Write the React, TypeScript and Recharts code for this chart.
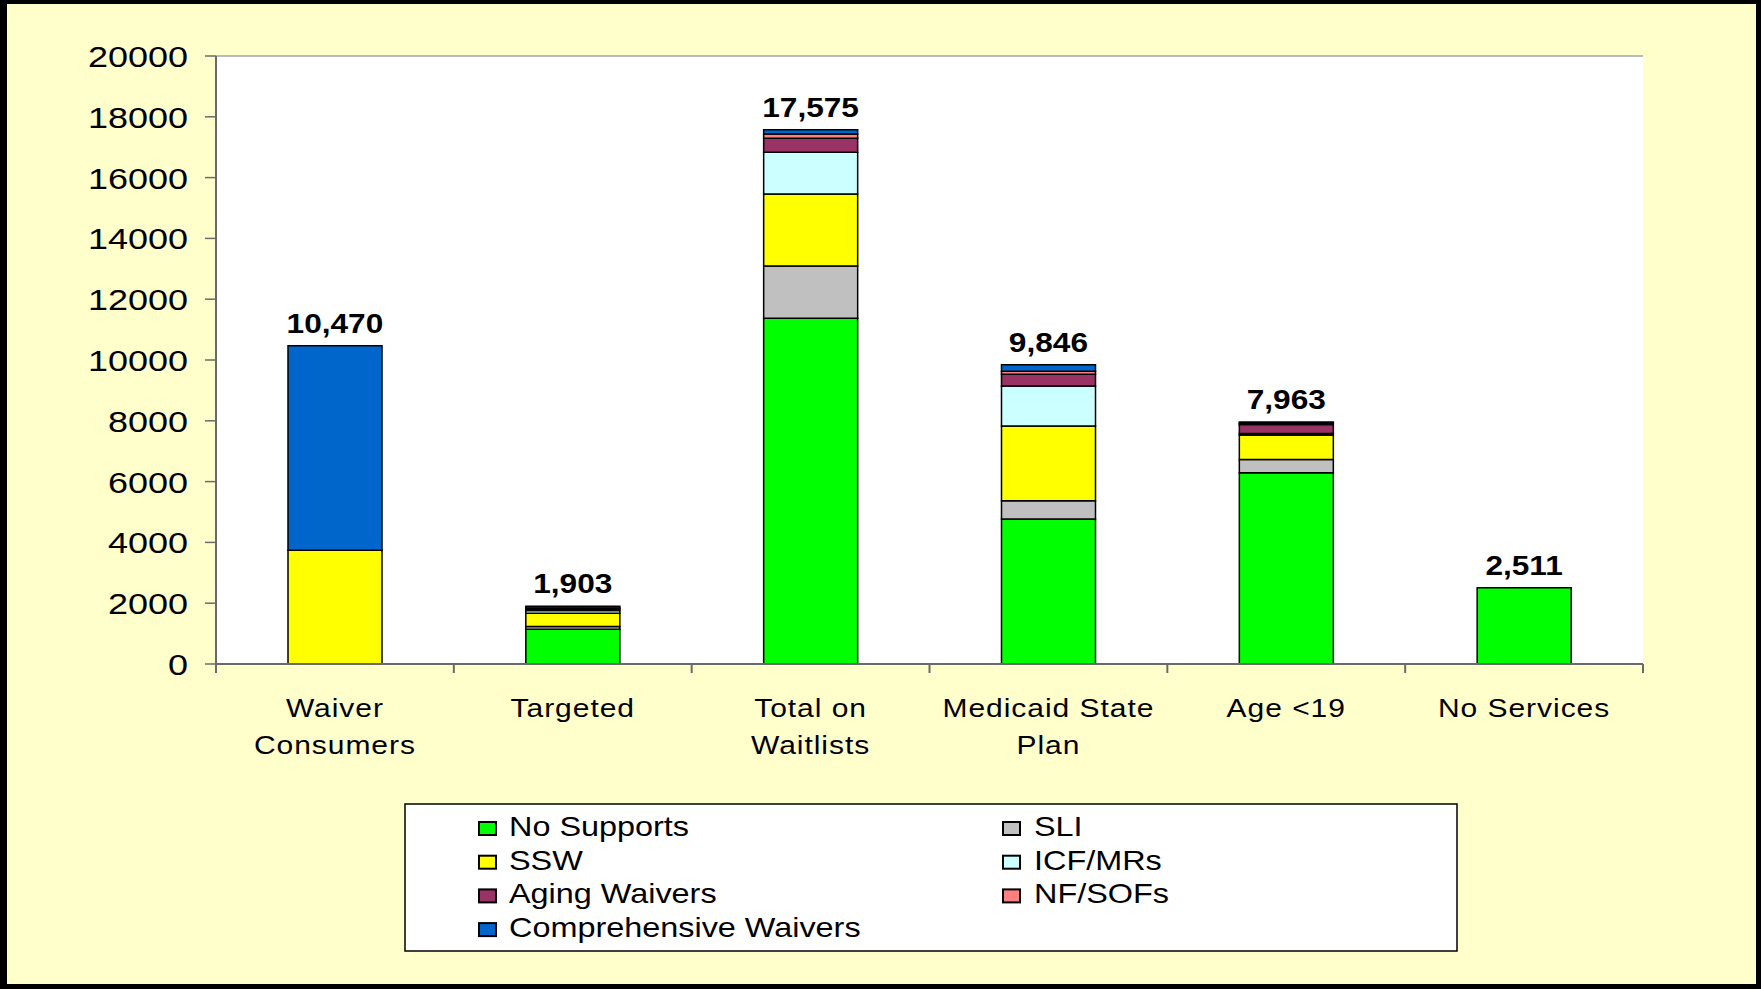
import { Bar, CartesianGrid, ComposedChart, LabelList, Line, XAxis, YAxis } from "recharts";

const categories = ["Waiver\nConsumers", "Targeted", "Total on\nWaitlists", "Medicaid State\nPlan", "Age <19", "No Services"];
const noSupports = [0, 1140, 11370, 4770, 6290, 2511];
const sli = [0, 90, 1720, 600, 440, 0];
const ssw = [3740, 440, 2370, 2457, 800, 0];
const icfMr = [0, 90, 1372, 1316, 50, 0];
const aging = [0, 50, 461, 385, 300, 0];
const nfSof = [0, 30, 141, 100, 30, 0];
const comprehensive = [6730, 63, 141, 218, 53, 0];
const totals = [10470, 1903, 17575, 9846, 7963, 2511];
const yTicks = [0, 2000, 4000, 6000, 8000, 10000, 12000, 14000, 16000, 18000, 20000];

const series = [
  { key: "noSupports", name: "No Supports", color: "#00FF00", values: noSupports },
  { key: "sli", name: "SLI", color: "#C0C0C0", values: sli },
  { key: "ssw", name: "SSW", color: "#FFFF00", values: ssw },
  { key: "icfMr", name: "ICF/MRs", color: "#CCFFFF", values: icfMr },
  { key: "aging", name: "Aging Waivers", color: "#993366", values: aging },
  { key: "nfSof", name: "NF/SOFs", color: "#FF8080", values: nfSof },
  { key: "comprehensive", name: "Comprehensive Waivers", color: "#0066CC", values: comprehensive },
];

const data = categories.map((c, i) => {
  const row: Record<string, string | number> = { name: c, total: totals[i] };
  series.forEach((s) => (row[s.key] = s.values[i]));
  return row;
});

const W = 1761;
const H = 989;
const PLOT_LEFT = 216;
const PLOT_RIGHT = 1643;
const PLOT_TOP = 56;
const PLOT_BOTTOM = 664;
const BAND = (PLOT_RIGHT - PLOT_LEFT) / categories.length;
const FONT = "'Liberation Sans', Arial, sans-serif";
const AXIS = "#6a6a6a";

const YTick = (props: any) => {
  const { x, y, payload } = props;
  return (
    <text transform={`translate(${x},${y + 11}) scale(1.2,1)`} textAnchor="end" fontSize={30} fontFamily={FONT} fill="#000">
      {payload.value}
    </text>
  );
};

const XTick = (props: any) => {
  const { x, y, payload, index } = props;
  const lines = String(payload.value).split("\n");
  const half = BAND / 2;
  return (
    <g>
      {index === 0 && <line x1={x - half} x2={x - half} y1={y} y2={y + 9} stroke={AXIS} strokeWidth={2} />}
      <line x1={x + half} x2={x + half} y1={y} y2={y + 9} stroke={AXIS} strokeWidth={2} />
      {lines.map((l, i) => (
        <text
          key={i}
          transform={`translate(${x},${y + 53 + i * 37}) scale(1.2,1)`}
          textAnchor="middle"
          fontSize={25}
          letterSpacing={0.8}
          fontFamily={FONT}
          fill="#000"
        >
          {l}
        </text>
      ))}
    </g>
  );
};

const TotalLabel = (props: any) => {
  const { x, y, value } = props;
  return (
    <text
      transform={`translate(${x},${y - 13}) scale(1.15,1)`}
      textAnchor="middle"
      fontSize={27.5}
      fontWeight="bold"
      fontFamily={FONT}
      fill="#000"
    >
      {Number(value).toLocaleString("en-US")}
    </text>
  );
};

function ChartLegend() {
  return (
    <svg width={W} height={H} style={{ position: "absolute", left: 0, top: 0, pointerEvents: "none" }}>
      <rect x={405} y={804} width={1052} height={147} fill="#fff" stroke="#000" strokeWidth={1.5} />
      {series.map((s, i) => {
        const col = i % 2;
        const row = Math.floor(i / 2);
        const base = 836 + row * 33.7;
        const sx = col === 0 ? 479 : 1003;
        const tx = col === 0 ? 509 : 1034;
        return (
          <g key={s.key}>
            <rect x={sx} y={base - 14} width={17} height={13} fill={s.color} stroke="#000" strokeWidth={2} />
            <text transform={`translate(${tx},${base}) scale(1.2,1)`} fontSize={27} fontFamily={FONT} fill="#000">
              {s.name}
            </text>
          </g>
        );
      })}
    </svg>
  );
}

export default function App() {
  return (
    <div style={{ position: "absolute", left: 0, top: 0, width: W, height: H, background: "#000", fontFamily: FONT }}>
      <div style={{ position: "absolute", left: 7, top: 4, width: W - 12, height: H - 9, background: "#FFFFCC" }} />
      <div style={{ position: "absolute", left: 0, top: 0 }}>
        <ComposedChart
          width={W}
          height={H}
          data={data}
          margin={{ top: PLOT_TOP, right: W - PLOT_RIGHT, bottom: H - PLOT_BOTTOM - 60, left: 0 }}
        >
          <CartesianGrid vertical={false} stroke="#7a7a7a" fill="#fff" />
          <XAxis
            dataKey="name"
            height={60}
            tick={<XTick />}
            tickLine={false}
            tickSize={0}
            tickMargin={0}
            interval={0}
            axisLine={{ stroke: AXIS, strokeWidth: 2 }}
          />
          <YAxis
            yAxisId="left"
            width={PLOT_LEFT}
            domain={[0, 20000]}
            ticks={yTicks}
            tick={<YTick />}
            tickSize={11}
            tickMargin={17}
            tickLine={{ stroke: AXIS, strokeWidth: 1.5 }}
            axisLine={{ stroke: AXIS, strokeWidth: 2 }}
          />
          <YAxis
            yAxisId="right"
            orientation="right"
            width={0}
            domain={[0, 20000]}
            tick={false}
            tickLine={false}
            axisLine={{ stroke: "#8a8a8a", strokeWidth: 1.5 }}
          />
          {series.map((s) => (
            <Bar
              key={s.key}
              yAxisId="left"
              dataKey={s.key}
              name={s.name}
              stackId="a"
              fill={s.color}
              stroke="#000"
              strokeWidth={1.5}
              barSize={94}
              isAnimationActive={false}
            />
          ))}
          <Line
            yAxisId="left"
            dataKey="total"
            stroke="none"
            dot={false}
            activeDot={false}
            isAnimationActive={false}
          >
            <LabelList dataKey="total" content={<TotalLabel />} />
          </Line>
        </ComposedChart>
      </div>
      <ChartLegend />
    </div>
  );
}
